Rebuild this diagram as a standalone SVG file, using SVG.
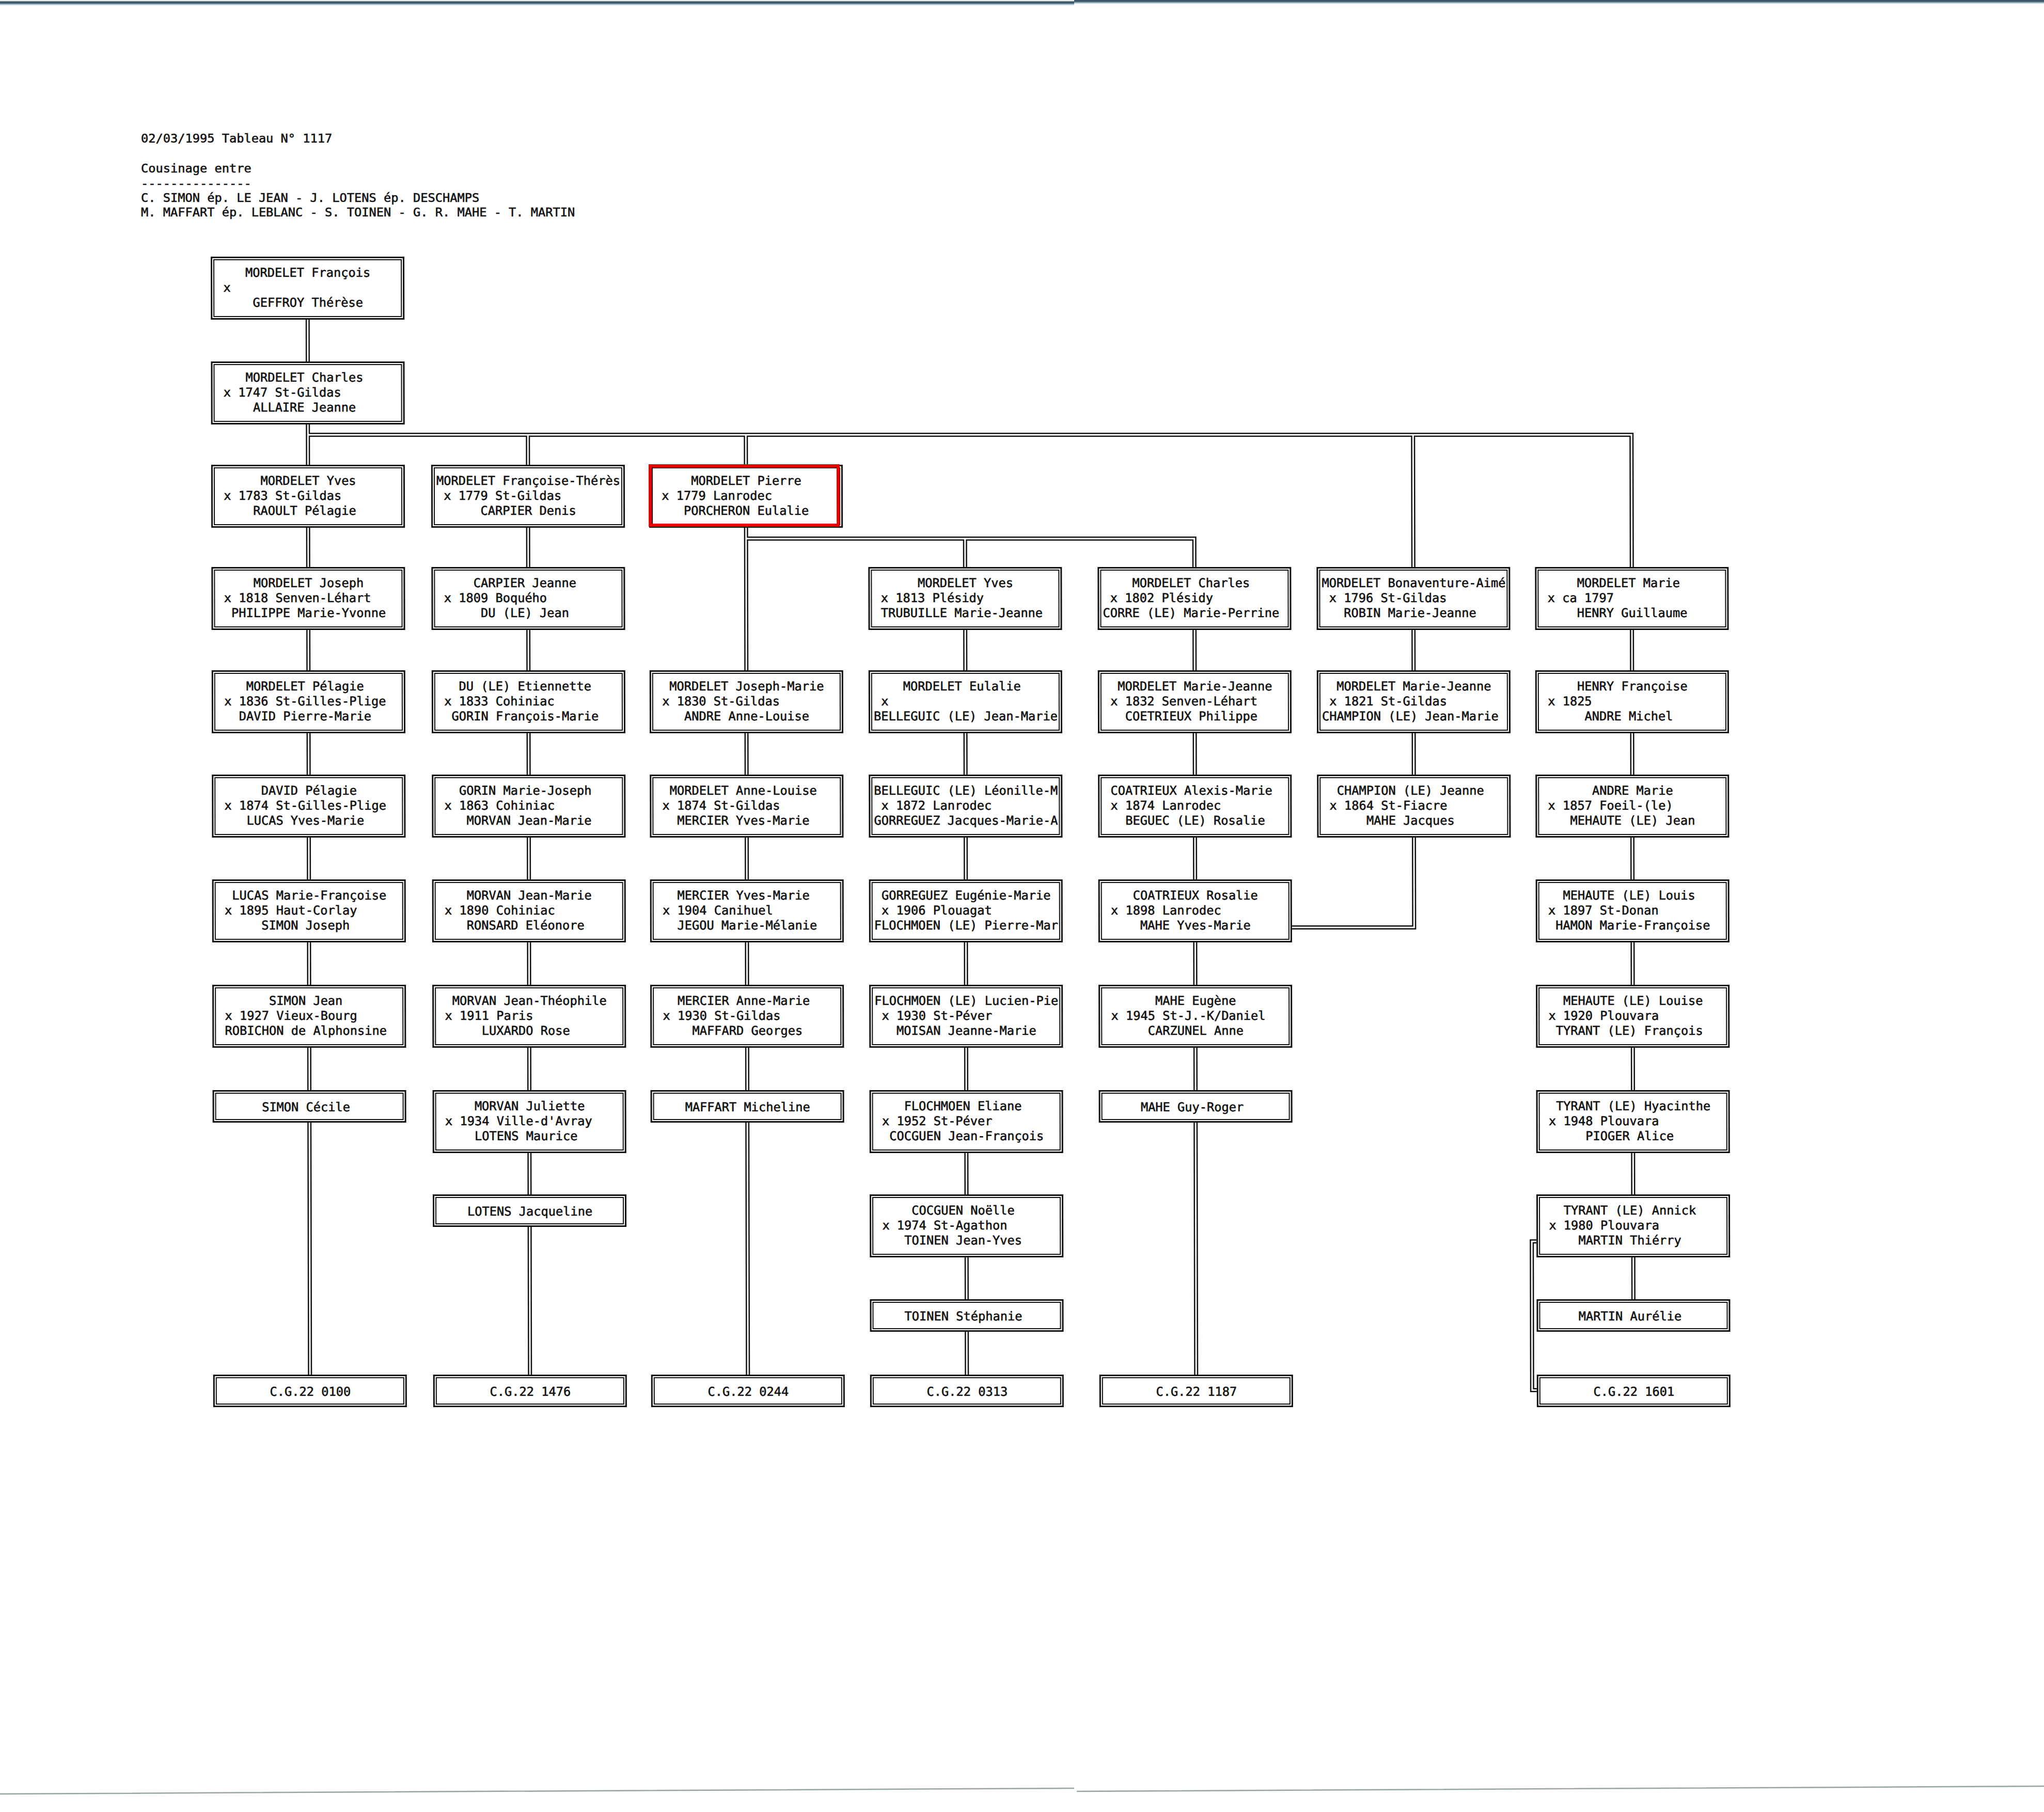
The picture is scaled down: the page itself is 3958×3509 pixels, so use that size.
<svg xmlns="http://www.w3.org/2000/svg" xmlns:xlink="http://www.w3.org/1999/xlink" width="3958" height="3509" viewBox="0 0 3958 3509">
<defs>
<style>
.t{font-family:"DejaVu Sans Mono","Liberation Mono",monospace;font-size:23.67px;fill:#111;stroke:#111;stroke-width:0.6px}
.bo{fill:#fff;stroke:#111;stroke-width:3}
.bi{fill:none;stroke:#111;stroke-width:2}
.red{fill:none;stroke:#e60000;stroke-width:6}
.ck{fill:none;stroke:#111;stroke-width:8;stroke-linejoin:miter}
.cw{fill:none;stroke:#fff;stroke-width:3;stroke-linejoin:miter}
</style>
<linearGradient id="band" x1="0" y1="0" x2="0" y2="1">
<stop offset="0" stop-color="#fff" stop-opacity="0"/>
<stop offset="0.3" stop-color="#2c4a5e"/>
<stop offset="0.55" stop-color="#4d6e80"/>
<stop offset="1" stop-color="#e6f2f4" stop-opacity="0"/>
</linearGradient>
<g id="f3"><rect class="bo" x="1.5" y="1.5" width="372" height="119"/><rect class="bi" x="6" y="6" width="363" height="110"/></g>
<g id="f1"><rect class="bo" x="1.5" y="1.5" width="372" height="60"/><rect class="bi" x="6" y="6" width="363" height="51"/></g>
<path id="links" d="M595.5 619V700M595.5 821V900M595.5 1022V1098M595.5 1220V1298M595.5 1420V1500M595.5 1622V1703M595.5 1825V1907M595.5 2029V2111M595.5 2174V2662
M595.5 842H3158.5V1098
M1021.5 842V900M1021.5 1022V1098M1021.5 1220V1298M1021.5 1420V1500M1021.5 1622V1703M1021.5 1825V1907M1021.5 2029V2111M1021.5 2233V2313M1021.5 2376V2662
M1443.5 842V900M1443.5 1022V1298M1443.5 1420V1500M1443.5 1622V1703M1443.5 1825V1907M1443.5 2029V2111M1443.5 2174V2662
M1443.5 1043H2311.5V1098M1867.5 1043V1098
M1867.5 1220V1298M1867.5 1420V1500M1867.5 1622V1703M1867.5 1825V1907M1867.5 2029V2111M1867.5 2233V2313M1867.5 2435V2516M1867.5 2579V2662
M2311.5 1220V1298M2311.5 1420V1500M2311.5 1622V1703M2311.5 1825V1907M2311.5 2029V2111M2311.5 2174V2662
M2735.5 842V1098M2735.5 1220V1298M2735.5 1420V1500M2735.5 1622V1796H2499
M3158.5 1220V1298M3158.5 1420V1500M3158.5 1622V1703M3158.5 1825V1907M3158.5 2029V2111M3158.5 2233V2313M3158.5 2435V2516
M2971 2404H2962V2692H2971"/>
</defs>
<rect x="0" y="0" width="3958" height="3509" fill="#fff"/>
<g id="scan-edges">
<rect x="0" y="0" width="2080" height="12" fill="url(#band)"/>
<rect x="2080" y="-3" width="1878" height="12" fill="url(#band)"/>
<path d="M0 3474L2080 3463M2085 3469L3958 3459" stroke="#7f8f88" stroke-width="2.5" fill="none" opacity="0.8"/>
</g>
<g id="header">
<text class="t" x="273" y="276">02/03/1995 Tableau N° 1117</text>
<text class="t" x="273" y="334">Cousinage entre</text>
<text class="t" x="273" y="363">---------------</text>
<text class="t" x="273" y="391">C. SIMON ép. LE JEAN - J. LOTENS ép. DESCHAMPS</text>
<text class="t" x="273" y="419">M. MAFFART ép. LEBLANC - S. TOINEN - G. R. MAHE - T. MARTIN</text>
</g>
<g id="tree" transform="matrix(1 0 0.0022 1 -1.1 0)">
<g id="connectors">
<use xlink:href="#links" class="ck"/>
<use xlink:href="#links" class="cw"/>
</g>
<g id="n-r0c1" transform="translate(408 497)"><use xlink:href="#f3"/><text class="t" x="67" y="39.5">MORDELET François</text><text class="t" x="24.25" y="68.5">x</text><text class="t" x="81.25" y="97.5">GEFFROY Thérèse</text></g>
<g id="n-r1c1" transform="translate(408 700)"><use xlink:href="#f3"/><text class="t" x="67" y="39.5">MORDELET Charles</text><text class="t" x="24.25" y="68.5">x 1747 St-Gildas</text><text class="t" x="81.25" y="97.5">ALLAIRE Jeanne</text></g>
<g id="n-r2c1" transform="translate(408 900)"><use xlink:href="#f3"/><text class="t" x="95.5" y="39.5">MORDELET Yves</text><text class="t" x="24.25" y="68.5">x 1783 St-Gildas</text><text class="t" x="81.25" y="97.5">RAOULT Pélagie</text></g>
<g id="n-r2c2" transform="translate(834 900)"><use xlink:href="#f3"/><text class="t" x="10" y="39.5">MORDELET Françoise-Thérès</text><text class="t" x="24.25" y="68.5">x 1779 St-Gildas</text><text class="t" x="95.5" y="97.5">CARPIER Denis</text></g>
<g id="n-r2c3" transform="translate(1256 900)"><use xlink:href="#f3"/><rect class="red" x="2" y="2" width="364" height="115"/><text class="t" x="81.25" y="39.5">MORDELET Pierre</text><text class="t" x="24.25" y="68.5">x 1779 Lanrodec</text><text class="t" x="67" y="97.5">PORCHERON Eulalie</text></g>
<g id="n-r3c1" transform="translate(408 1098)"><use xlink:href="#f3"/><text class="t" x="81.25" y="39.5">MORDELET Joseph</text><text class="t" x="24.25" y="68.5">x 1818 Senven-Léhart</text><text class="t" x="38.5" y="97.5">PHILIPPE Marie-Yvonne</text></g>
<g id="n-r3c2" transform="translate(834 1098)"><use xlink:href="#f3"/><text class="t" x="81.25" y="39.5">CARPIER Jeanne</text><text class="t" x="24.25" y="68.5">x 1809 Boquého</text><text class="t" x="95.5" y="97.5">DU (LE) Jean</text></g>
<g id="n-r3c4" transform="translate(1680 1098)"><use xlink:href="#f3"/><text class="t" x="95.5" y="39.5">MORDELET Yves</text><text class="t" x="24.25" y="68.5">x 1813 Plésidy</text><text class="t" x="24.25" y="97.5">TRUBUILLE Marie-Jeanne</text></g>
<g id="n-r3c5" transform="translate(2124 1098)"><use xlink:href="#f3"/><text class="t" x="67" y="39.5">MORDELET Charles</text><text class="t" x="24.25" y="68.5">x 1802 Plésidy</text><text class="t" x="10" y="97.5">CORRE (LE) Marie-Perrine</text></g>
<g id="n-r3c6" transform="translate(2548 1098)"><use xlink:href="#f3"/><text class="t" x="10" y="39.5">MORDELET Bonaventure-Aimé</text><text class="t" x="24.25" y="68.5">x 1796 St-Gildas</text><text class="t" x="52.75" y="97.5">ROBIN Marie-Jeanne</text></g>
<g id="n-r3c7" transform="translate(2971 1098)"><use xlink:href="#f3"/><text class="t" x="81.25" y="39.5">MORDELET Marie</text><text class="t" x="24.25" y="68.5">x ca 1797</text><text class="t" x="81.25" y="97.5">HENRY Guillaume</text></g>
<g id="n-r4c1" transform="translate(408 1298)"><use xlink:href="#f3"/><text class="t" x="67" y="39.5">MORDELET Pélagie</text><text class="t" x="24.25" y="68.5">x 1836 St-Gilles-Plige</text><text class="t" x="52.75" y="97.5">DAVID Pierre-Marie</text></g>
<g id="n-r4c2" transform="translate(834 1298)"><use xlink:href="#f3"/><text class="t" x="52.75" y="39.5">DU (LE) Etiennette</text><text class="t" x="24.25" y="68.5">x 1833 Cohiniac</text><text class="t" x="38.5" y="97.5">GORIN François-Marie</text></g>
<g id="n-r4c3" transform="translate(1256 1298)"><use xlink:href="#f3"/><text class="t" x="38.5" y="39.5">MORDELET Joseph-Marie</text><text class="t" x="24.25" y="68.5">x 1830 St-Gildas</text><text class="t" x="67" y="97.5">ANDRE Anne-Louise</text></g>
<g id="n-r4c4" transform="translate(1680 1298)"><use xlink:href="#f3"/><text class="t" x="67" y="39.5">MORDELET Eulalie</text><text class="t" x="24.25" y="68.5">x</text><text class="t" x="10" y="97.5">BELLEGUIC (LE) Jean-Marie</text></g>
<g id="n-r4c5" transform="translate(2124 1298)"><use xlink:href="#f3"/><text class="t" x="38.5" y="39.5">MORDELET Marie-Jeanne</text><text class="t" x="24.25" y="68.5">x 1832 Senven-Léhart</text><text class="t" x="52.75" y="97.5">COETRIEUX Philippe</text></g>
<g id="n-r4c6" transform="translate(2548 1298)"><use xlink:href="#f3"/><text class="t" x="38.5" y="39.5">MORDELET Marie-Jeanne</text><text class="t" x="24.25" y="68.5">x 1821 St-Gildas</text><text class="t" x="10" y="97.5">CHAMPION (LE) Jean-Marie</text></g>
<g id="n-r4c7" transform="translate(2971 1298)"><use xlink:href="#f3"/><text class="t" x="81.25" y="39.5">HENRY Françoise</text><text class="t" x="24.25" y="68.5">x 1825</text><text class="t" x="95.5" y="97.5">ANDRE Michel</text></g>
<g id="n-r5c1" transform="translate(408 1500)"><use xlink:href="#f3"/><text class="t" x="95.5" y="39.5">DAVID Pélagie</text><text class="t" x="24.25" y="68.5">x 1874 St-Gilles-Plige</text><text class="t" x="67" y="97.5">LUCAS Yves-Marie</text></g>
<g id="n-r5c2" transform="translate(834 1500)"><use xlink:href="#f3"/><text class="t" x="52.75" y="39.5">GORIN Marie-Joseph</text><text class="t" x="24.25" y="68.5">x 1863 Cohiniac</text><text class="t" x="67" y="97.5">MORVAN Jean-Marie</text></g>
<g id="n-r5c3" transform="translate(1256 1500)"><use xlink:href="#f3"/><text class="t" x="38.5" y="39.5">MORDELET Anne-Louise</text><text class="t" x="24.25" y="68.5">x 1874 St-Gildas</text><text class="t" x="52.75" y="97.5">MERCIER Yves-Marie</text></g>
<g id="n-r5c4" transform="translate(1680 1500)"><use xlink:href="#f3"/><text class="t" x="10" y="39.5">BELLEGUIC (LE) Léonille-M</text><text class="t" x="24.25" y="68.5">x 1872 Lanrodec</text><text class="t" x="10" y="97.5">GORREGUEZ Jacques-Marie-A</text></g>
<g id="n-r5c5" transform="translate(2124 1500)"><use xlink:href="#f3"/><text class="t" x="24.25" y="39.5">COATRIEUX Alexis-Marie</text><text class="t" x="24.25" y="68.5">x 1874 Lanrodec</text><text class="t" x="52.75" y="97.5">BEGUEC (LE) Rosalie</text></g>
<g id="n-r5c6" transform="translate(2548 1500)"><use xlink:href="#f3"/><text class="t" x="38.5" y="39.5">CHAMPION (LE) Jeanne</text><text class="t" x="24.25" y="68.5">x 1864 St-Fiacre</text><text class="t" x="95.5" y="97.5">MAHE Jacques</text></g>
<g id="n-r5c7" transform="translate(2971 1500)"><use xlink:href="#f3"/><text class="t" x="109.75" y="39.5">ANDRE Marie</text><text class="t" x="24.25" y="68.5">x 1857 Foeil-(le)</text><text class="t" x="67" y="97.5">MEHAUTE (LE) Jean</text></g>
<g id="n-r6c1" transform="translate(408 1703)"><use xlink:href="#f3"/><text class="t" x="38.5" y="39.5">LUCAS Marie-Françoise</text><text class="t" x="24.25" y="68.5">x 1895 Haut-Corlay</text><text class="t" x="95.5" y="97.5">SIMON Joseph</text></g>
<g id="n-r6c2" transform="translate(834 1703)"><use xlink:href="#f3"/><text class="t" x="67" y="39.5">MORVAN Jean-Marie</text><text class="t" x="24.25" y="68.5">x 1890 Cohiniac</text><text class="t" x="67" y="97.5">RONSARD Eléonore</text></g>
<g id="n-r6c3" transform="translate(1256 1703)"><use xlink:href="#f3"/><text class="t" x="52.75" y="39.5">MERCIER Yves-Marie</text><text class="t" x="24.25" y="68.5">x 1904 Canihuel</text><text class="t" x="52.75" y="97.5">JEGOU Marie-Mélanie</text></g>
<g id="n-r6c4" transform="translate(1680 1703)"><use xlink:href="#f3"/><text class="t" x="24.25" y="39.5">GORREGUEZ Eugénie-Marie</text><text class="t" x="24.25" y="68.5">x 1906 Plouagat</text><text class="t" x="10" y="97.5">FLOCHMOEN (LE) Pierre-Mar</text></g>
<g id="n-r6c5" transform="translate(2124 1703)"><use xlink:href="#f3"/><text class="t" x="67" y="39.5">COATRIEUX Rosalie</text><text class="t" x="24.25" y="68.5">x 1898 Lanrodec</text><text class="t" x="81.25" y="97.5">MAHE Yves-Marie</text></g>
<g id="n-r6c7" transform="translate(2971 1703)"><use xlink:href="#f3"/><text class="t" x="52.75" y="39.5">MEHAUTE (LE) Louis</text><text class="t" x="24.25" y="68.5">x 1897 St-Donan</text><text class="t" x="38.5" y="97.5">HAMON Marie-Françoise</text></g>
<g id="n-r7c1" transform="translate(408 1907)"><use xlink:href="#f3"/><text class="t" x="109.75" y="39.5">SIMON Jean</text><text class="t" x="24.25" y="68.5">x 1927 Vieux-Bourg</text><text class="t" x="24.25" y="97.5">ROBICHON de Alphonsine</text></g>
<g id="n-r7c2" transform="translate(834 1907)"><use xlink:href="#f3"/><text class="t" x="38.5" y="39.5">MORVAN Jean-Théophile</text><text class="t" x="24.25" y="68.5">x 1911 Paris</text><text class="t" x="95.5" y="97.5">LUXARDO Rose</text></g>
<g id="n-r7c3" transform="translate(1256 1907)"><use xlink:href="#f3"/><text class="t" x="52.75" y="39.5">MERCIER Anne-Marie</text><text class="t" x="24.25" y="68.5">x 1930 St-Gildas</text><text class="t" x="81.25" y="97.5">MAFFARD Georges</text></g>
<g id="n-r7c4" transform="translate(1680 1907)"><use xlink:href="#f3"/><text class="t" x="10" y="39.5">FLOCHMOEN (LE) Lucien-Pie</text><text class="t" x="24.25" y="68.5">x 1930 St-Péver</text><text class="t" x="52.75" y="97.5">MOISAN Jeanne-Marie</text></g>
<g id="n-r7c5" transform="translate(2124 1907)"><use xlink:href="#f3"/><text class="t" x="109.75" y="39.5">MAHE Eugène</text><text class="t" x="24.25" y="68.5">x 1945 St-J.-K/Daniel</text><text class="t" x="95.5" y="97.5">CARZUNEL Anne</text></g>
<g id="n-r7c7" transform="translate(2971 1907)"><use xlink:href="#f3"/><text class="t" x="52.75" y="39.5">MEHAUTE (LE) Louise</text><text class="t" x="24.25" y="68.5">x 1920 Plouvara</text><text class="t" x="38.5" y="97.5">TYRANT (LE) François</text></g>
<g id="n-r8c1" transform="translate(408 2111)"><use xlink:href="#f1"/><text class="t" x="95.5" y="41">SIMON Cécile</text></g>
<g id="n-r8c2" transform="translate(834 2111)"><use xlink:href="#f3"/><text class="t" x="81.25" y="39.5">MORVAN Juliette</text><text class="t" x="24.25" y="68.5">x 1934 Ville-d'Avray</text><text class="t" x="81.25" y="97.5">LOTENS Maurice</text></g>
<g id="n-r8c3" transform="translate(1256 2111)"><use xlink:href="#f1"/><text class="t" x="67" y="41">MAFFART Micheline</text></g>
<g id="n-r8c4" transform="translate(1680 2111)"><use xlink:href="#f3"/><text class="t" x="67" y="39.5">FLOCHMOEN Eliane</text><text class="t" x="24.25" y="68.5">x 1952 St-Péver</text><text class="t" x="38.5" y="97.5">COCGUEN Jean-François</text></g>
<g id="n-r8c5" transform="translate(2124 2111)"><use xlink:href="#f1"/><text class="t" x="81.25" y="41">MAHE Guy-Roger</text></g>
<g id="n-r8c7" transform="translate(2971 2111)"><use xlink:href="#f3"/><text class="t" x="38.5" y="39.5">TYRANT (LE) Hyacinthe</text><text class="t" x="24.25" y="68.5">x 1948 Plouvara</text><text class="t" x="95.5" y="97.5">PIOGER Alice</text></g>
<g id="n-r9c2" transform="translate(834 2313)"><use xlink:href="#f1"/><text class="t" x="67" y="41">LOTENS Jacqueline</text></g>
<g id="n-r9c4" transform="translate(1680 2313)"><use xlink:href="#f3"/><text class="t" x="81.25" y="39.5">COCGUEN Noëlle</text><text class="t" x="24.25" y="68.5">x 1974 St-Agathon</text><text class="t" x="67" y="97.5">TOINEN Jean-Yves</text></g>
<g id="n-r9c7" transform="translate(2971 2313)"><use xlink:href="#f3"/><text class="t" x="52.75" y="39.5">TYRANT (LE) Annick</text><text class="t" x="24.25" y="68.5">x 1980 Plouvara</text><text class="t" x="81.25" y="97.5">MARTIN Thiérry</text></g>
<g id="n-r10c4" transform="translate(1680 2516)"><use xlink:href="#f1"/><text class="t" x="67" y="41">TOINEN Stéphanie</text></g>
<g id="n-r10c7" transform="translate(2971 2516)"><use xlink:href="#f1"/><text class="t" x="81.25" y="41">MARTIN Aurélie</text></g>
<g id="n-r11c1" transform="translate(408 2662)"><use xlink:href="#f1"/><text class="t" x="109.75" y="41">C.G.22 0100</text></g>
<g id="n-r11c2" transform="translate(834 2662)"><use xlink:href="#f1"/><text class="t" x="109.75" y="41">C.G.22 1476</text></g>
<g id="n-r11c3" transform="translate(1256 2662)"><use xlink:href="#f1"/><text class="t" x="109.75" y="41">C.G.22 0244</text></g>
<g id="n-r11c4" transform="translate(1680 2662)"><use xlink:href="#f1"/><text class="t" x="109.75" y="41">C.G.22 0313</text></g>
<g id="n-r11c5" transform="translate(2124 2662)"><use xlink:href="#f1"/><text class="t" x="109.75" y="41">C.G.22 1187</text></g>
<g id="n-r11c7" transform="translate(2971 2662)"><use xlink:href="#f1"/><text class="t" x="109.75" y="41">C.G.22 1601</text></g>
</g>
</svg>
